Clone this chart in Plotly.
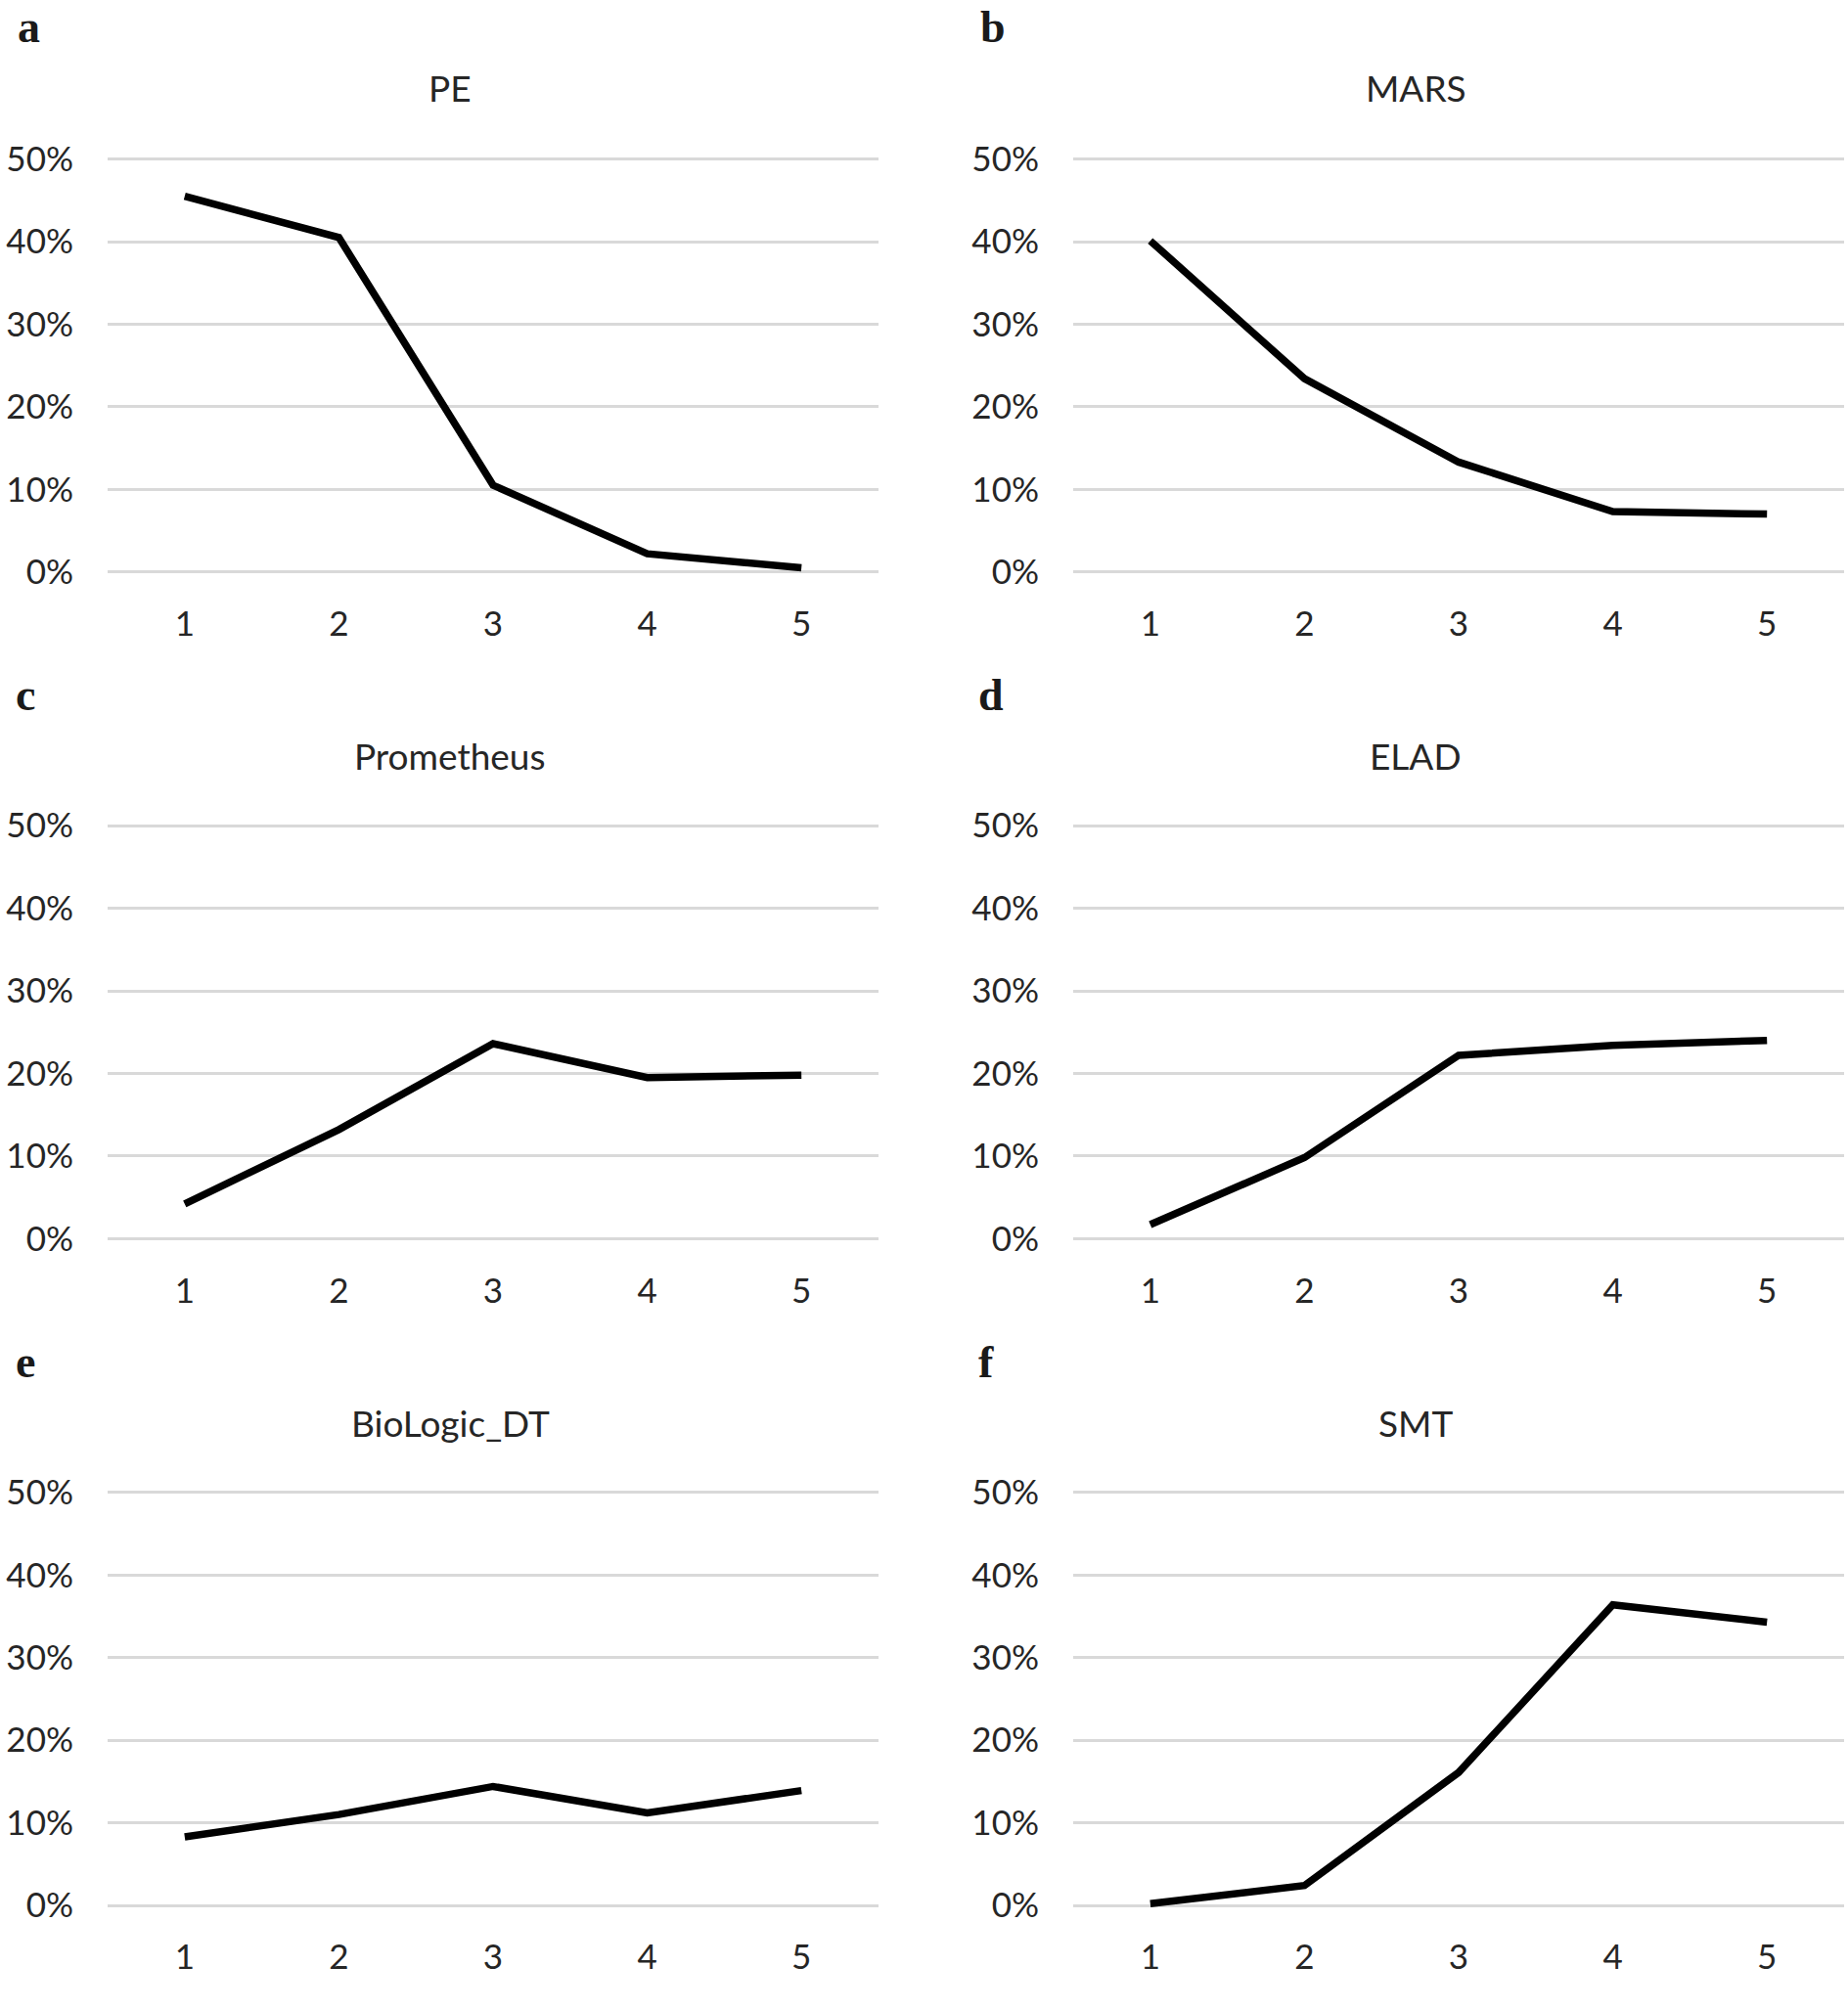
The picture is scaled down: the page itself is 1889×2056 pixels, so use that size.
import plotly.graph_objects as go

categories = [1, 2, 3, 4, 5]
titles = ["PE", "MARS", "Prometheus", "ELAD", "BioLogic_DT", "SMT"]
panel_letters = ["a", "b", "c", "d", "e", "f"]

pe = [0.455, 0.405, 0.105, 0.022, 0.005]
mars = [0.401, 0.234, 0.133, 0.073, 0.070]
prometheus = [0.042, 0.132, 0.236, 0.195, 0.198]
elad = [0.017, 0.098, 0.222, 0.234, 0.240]
biologic_dt = [0.083, 0.110, 0.144, 0.112, 0.139]
smt = [0.002, 0.024, 0.161, 0.364, 0.343]

y_ticks = [0, 0.1, 0.2, 0.3, 0.4, 0.5]
y_tick_labels = ["0%", "10%", "20%", "30%", "40%", "50%"]

series = [pe, mars, prometheus, elad, biologic_dt, smt]

W, H = 1889, 2056
FONT = "Lato"
TXT = "#262626"

# pixel layout
col_x = [(110, 898), (1097, 1885)]
row_zero = [584.7, 1266.3, 1948.0]
row_fifty = [162.6, 844.2, 1525.9]
pad = 0.03
title_y = [90, 772, 1454]
title_x = [460, 1447]
letter_pos = [(16, 0), (1000, 0), (14, 683), (998, 683), (14, 1365), (998, 1365)]

fig = go.Figure()
layout = {}
for i, (vals, title) in enumerate(zip(series, titles)):
    r, c = divmod(i, 2)
    n = i + 1
    xa = "x" if n == 1 else f"x{n}"
    ya = "y" if n == 1 else f"y{n}"
    fig.add_trace(go.Scatter(x=categories, y=vals, mode="lines",
                             line=dict(color="black", width=7.5),
                             xaxis=xa, yaxis=ya, showlegend=False,
                             hoverinfo="skip"))
    ppu = (row_zero[r] - row_fifty[r]) / 0.5
    top = row_fifty[r] - pad * ppu
    bot = row_zero[r] + pad * ppu
    x0, x1 = col_x[c]
    layout[f"xaxis{'' if n == 1 else n}"] = dict(
        domain=[x0 / W, x1 / W], anchor=ya, range=[0.5, 5.5],
        tickmode="array", tickvals=categories, ticktext=[str(v) for v in categories],
        showgrid=False, zeroline=False, showline=False,
        ticks="", ticklabelstandoff=4,
        tickfont=dict(family=FONT, size=35, color=TXT), fixedrange=True)
    layout[f"yaxis{'' if n == 1 else n}"] = dict(
        domain=[1 - bot / H, 1 - top / H], anchor=xa, range=[-pad, 0.5 + pad],
        tickmode="array", tickvals=y_ticks, ticktext=y_tick_labels,
        showgrid=True, gridcolor="#d9d9d9", gridwidth=3,
        zeroline=False, showline=False,
        ticks="outside", ticklen=27, tickcolor="rgba(0,0,0,0)",
        tickfont=dict(family=FONT, size=35, color=TXT), fixedrange=True)

annotations = []
for i, title in enumerate(titles):
    r, c = divmod(i, 2)
    annotations.append(dict(text=title, x=title_x[c] / W, y=1 - title_y[r] / H,
                            xref="paper", yref="paper", xanchor="center", yanchor="middle",
                            showarrow=False, font=dict(family=FONT, size=37, color=TXT)))
for letter, (lx, ly) in zip(panel_letters, letter_pos):
    annotations.append(dict(text=f"<b>{letter}</b>", x=lx / W, y=1 - ly / H,
                            xref="paper", yref="paper", xanchor="left", yanchor="top",
                            showarrow=False,
                            font=dict(family="Liberation Serif", size=46, color="#1a1a1a")))

fig.update_layout(width=W, height=H, margin=dict(l=0, r=0, t=0, b=0),
                  paper_bgcolor="white", plot_bgcolor="white",
                  annotations=annotations, **layout)
fig.write_html("out.html", config={"displayModeBar": False},
               post_script="document.body.style.margin='0';document.body.style.overflow='hidden';")
